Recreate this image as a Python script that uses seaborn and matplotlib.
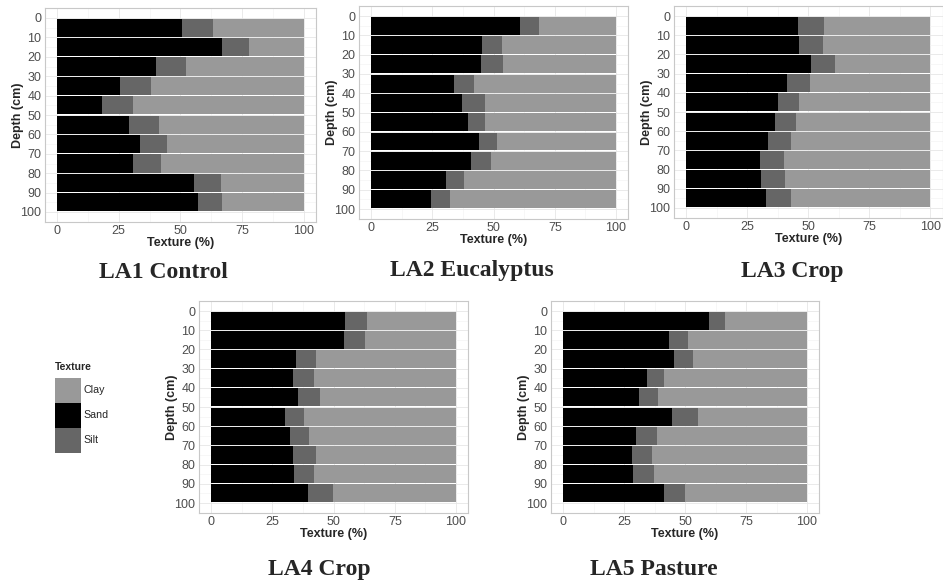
import numpy as np
import pandas as pd
import matplotlib
matplotlib.use("Agg")
import matplotlib.pyplot as plt
from matplotlib.patches import Patch
import seaborn as sns

# ---------------- data ----------------
depth_top = [0, 10, 20, 30, 40, 50, 60, 70, 80, 90]
panel_titles = ["LA1 Control", "LA2 Eucalyptus", "LA3 Crop", "LA4 Crop", "LA5 Pasture"]

# Sand (%) per 10-cm layer
sand_la1 = [50.5, 66.9, 39.9, 25.4, 18.4, 29.3, 33.8, 30.9, 55.3, 57.2]
sand_la2 = [60.7, 45.2, 44.9, 33.7, 37.3, 39.5, 44.1, 40.7, 30.6, 24.6]
sand_la3 = [45.9, 46.1, 51.0, 41.2, 37.8, 36.5, 33.7, 30.2, 30.9, 32.8]
sand_la4 = [54.7, 54.3, 34.6, 33.5, 35.6, 30.2, 32.1, 33.3, 33.7, 39.6]
sand_la5 = [59.9, 43.3, 45.5, 34.5, 31.1, 44.7, 30.1, 28.3, 28.7, 41.3]

# Silt (%) per layer
silt_la1 = [12.7, 10.7, 12.5, 12.6, 12.4, 11.8, 10.8, 11.4, 11.2, 9.7]
silt_la2 = [7.7, 8.3, 9.0, 8.3, 9.1, 6.9, 7.5, 8.4, 7.4, 7.5]
silt_la3 = [10.4, 10.0, 10.0, 9.5, 8.6, 8.7, 9.3, 9.8, 9.8, 10.1]
silt_la4 = [9.1, 8.7, 8.1, 8.4, 9.0, 7.6, 7.9, 9.7, 8.5, 10.3]
silt_la5 = [6.6, 7.8, 7.6, 6.9, 7.7, 10.6, 8.3, 8.2, 8.6, 8.7]

sand_all = [sand_la1, sand_la2, sand_la3, sand_la4, sand_la5]
silt_all = [silt_la1, silt_la2, silt_la3, silt_la4, silt_la5]

texture_levels = ["Clay", "Sand", "Silt"]
texture_colors = {"Clay": "#999999", "Sand": "#000000", "Silt": "#666666"}

x_ticks = [0, 25, 50, 75, 100]
y_ticks = [0, 10, 20, 30, 40, 50, 60, 70, 80, 90, 100]

# ---------------- style ----------------
sns.set_style("white")
plt.rcParams["font.family"] = ["Liberation Sans", "DejaVu Sans"]

W, H = 943, 584
fig = plt.figure(figsize=(W / 100, H / 100), dpi=100)

# panel rectangles in pixels: (left, right, top, bottom)
rects = [
    (44.6, 316.4, 8.3, 221.7),
    (358.8, 628.3, 6.4, 218.7),
    (673.8, 942.5, 6.4, 217.6),
    (198.8, 468.3, 301.4, 512.6),
    (550.8, 819.2, 301.4, 512.6),
]

for i, (l, r, t, b) in enumerate(rects):
    ax = fig.add_axes([l / W, 1 - b / H, (r - l) / W, (b - t) / H])
    sand = list(sand_all[i])
    silt = list(silt_all[i])
    clay = [100 - a - s for a, s in zip(sand, silt)]
    mids = [d + 5 for d in depth_top]
    df = pd.DataFrame({
        "mid": mids * 3,
        "pct": sand + silt + clay,
        "Texture": ["Sand"] * 10 + ["Silt"] * 10 + ["Clay"] * 10,
    })
    ax.set_axisbelow(True)
    ax.set_xticks([12.5, 37.5, 62.5, 87.5], minor=True)
    ax.set_yticks(np.arange(5, 100, 10), minor=True)
    ax.grid(which="major", color="#e6e6e6", lw=0.6)
    ax.grid(which="minor", color="#f2f2f2", lw=0.4)

    sns.histplot(data=df, y="mid", weights="pct", hue="Texture",
                 hue_order=["Clay", "Silt", "Sand"], multiple="stack",
                 binwidth=10, binrange=(0, 100), shrink=0.93,
                 palette=texture_colors, alpha=1, linewidth=0,
                 legend=False, ax=ax)

    ax.set_xlim(-5, 105)
    ax.set_ylim(105, -5)
    ax.set_xticks(x_ticks)
    ax.set_yticks(y_ticks)
    ax.set_xticklabels([str(v) for v in x_ticks])
    ax.set_yticklabels([str(v) for v in y_ticks])
    ax.tick_params(axis="both", which="major", labelsize=9, labelcolor="#4d4d4d",
                   length=1.8, width=0.6, color="#b0b0b0", pad=0.6)
    ax.tick_params(axis="both", which="minor", length=0)
    ax.set_xlabel("Texture (%)", fontsize=9, fontweight="bold", labelpad=-0.3)
    ax.set_ylabel("Depth (cm)", fontsize=9, fontweight="bold", labelpad=-2.5)
    for s in ax.spines.values():
        s.set_visible(True)
        s.set_color("#c8c8c8")
        s.set_linewidth(0.8)

# panel titles
title_pos = [(163, 278), (472, 276), (792, 277), (319, 575), (654, 575)]
for txt, (x, y) in zip(panel_titles, title_pos):
    fig.text(x / W, 1 - y / H, txt, ha="center", va="baseline",
             fontsize=17, fontweight="bold", family=["Liberation Serif", "DejaVu Serif"])

# legend
handles = [Patch(facecolor=texture_colors[k], edgecolor="none") for k in texture_levels]
leg = fig.legend(handles, texture_levels, title="Texture", loc="upper left",
                 bbox_to_anchor=(55 / W, 1 - 362 / H), frameon=False,
                 fontsize=7.7, title_fontsize=7.5, handlelength=2.43, handleheight=3.22,
                 handletextpad=0.25, labelspacing=0, borderpad=0, borderaxespad=0,
                 alignment="left")
leg.get_title().set_fontweight("bold")
leg._legend_box.sep = 4

fig.savefig("out.png", dpi=100)
